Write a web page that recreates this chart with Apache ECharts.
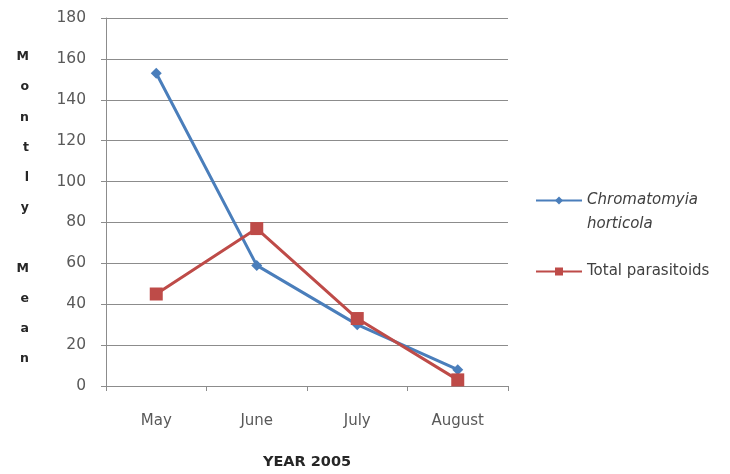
<!DOCTYPE html>
<html>
<head>
<meta charset="utf-8">
<script src="https://cdn.jsdelivr.net/npm/echarts@6/dist/echarts.min.js"></script>
<style>
html,body{margin:0;padding:0;background:#fff;}
#chart{width:730px;height:474px;}
</style>
</head>
<body>
<div id="chart"></div>
<script>
var months = ['May', 'June', 'July', 'August'];
var chromatomyia = [153, 59, 30, 8];
var parasitoids = [45, 77, 33, 3];
var yTicks = [0, 20, 40, 60, 80, 100, 120, 140, 160, 180];
var seriesNames = ['Chromatomyia horticola', 'Total parasitoids'];
var yTitle = 'Montly Mean';

var font = 'DejaVu Sans';
// stack the y-axis title letters vertically
var yTitleStacked = '{s| }\n' + yTitle.split('').map(function (c) { return c === ' ' ? '' : c; }).join('\n');

var chart = echarts.init(document.getElementById('chart'), null, {renderer: 'canvas'});
chart.setOption({
  animation: false,
  backgroundColor: '#ffffff',
  textStyle: {fontFamily: font},
  grid: {left: 106, right: 222, top: 18, bottom: 88, containLabel: false, outerBoundsMode: 'none'},
  legend: {
    orient: 'vertical',
    left: 530,
    top: 164,
    itemWidth: 46,
    itemHeight: 10,
    itemGap: 32,
    data: seriesNames,
    textStyle: {
      fontFamily: font, fontSize: 15, color: '#404040',
      rich: {
        e: {fontSize: 15, lineHeight: 24},
        i: {fontStyle: 'italic', fontSize: 15, color: '#404040', fontFamily: font, lineHeight: 24}
      }
    },
    formatter: function (name) {
      if (name === seriesNames[0]) return '{e| }\n{i|Chromatomyia}\n{i|horticola}';
      return name;
    }
  },
  xAxis: {
    type: 'category',
    data: months,
    boundaryGap: true,
    axisLine: {show: true, lineStyle: {color: '#8c8c8c', width: 1}},
    axisTick: {show: true, alignWithLabel: false, length: 5, lineStyle: {color: '#8c8c8c'}},
    axisLabel: {color: '#595959', fontSize: 15, margin: 28, fontFamily: font},
    name: 'YEAR 2005',
    nameLocation: 'middle',
    nameGap: 69,
    nameTextStyle: {fontWeight: 'bold', fontSize: 14.5, color: '#262626', fontFamily: font}
  },
  yAxis: {
    type: 'value',
    min: yTicks[0],
    max: yTicks[yTicks.length - 1],
    interval: 20,
    axisLine: {show: true, lineStyle: {color: '#8c8c8c', width: 1}},
    axisTick: {show: true, length: 5, lineStyle: {color: '#8c8c8c'}},
    axisLabel: {color: '#595959', fontSize: 15.5, margin: 20, fontFamily: font},
    splitLine: {show: true, lineStyle: {color: '#8c8c8c', width: 1}},
    name: yTitleStacked,
    nameLocation: 'middle',
    nameRotate: 0,
    nameGap: 77,
    nameTextStyle: {
      fontWeight: 'bold', fontSize: 12.5, color: '#262626', lineHeight: 30.2, fontFamily: font,
      rich: {s: {fontSize: 10, lineHeight: 12}}
    }
  },
  series: [
    {
      name: seriesNames[0],
      type: 'line',
      data: chromatomyia,
      symbol: 'diamond',
      symbolSize: 11,
      lineStyle: {color: '#4a7ebb', width: 3},
      itemStyle: {color: '#4a7ebb'},
      z: 2
    },
    {
      name: seriesNames[1],
      type: 'line',
      data: parasitoids,
      symbol: 'rect',
      symbolSize: 13,
      lineStyle: {color: '#be4b48', width: 3},
      itemStyle: {color: '#be4b48'},
      z: 3
    }
  ]
});
</script>
</body>
</html>
